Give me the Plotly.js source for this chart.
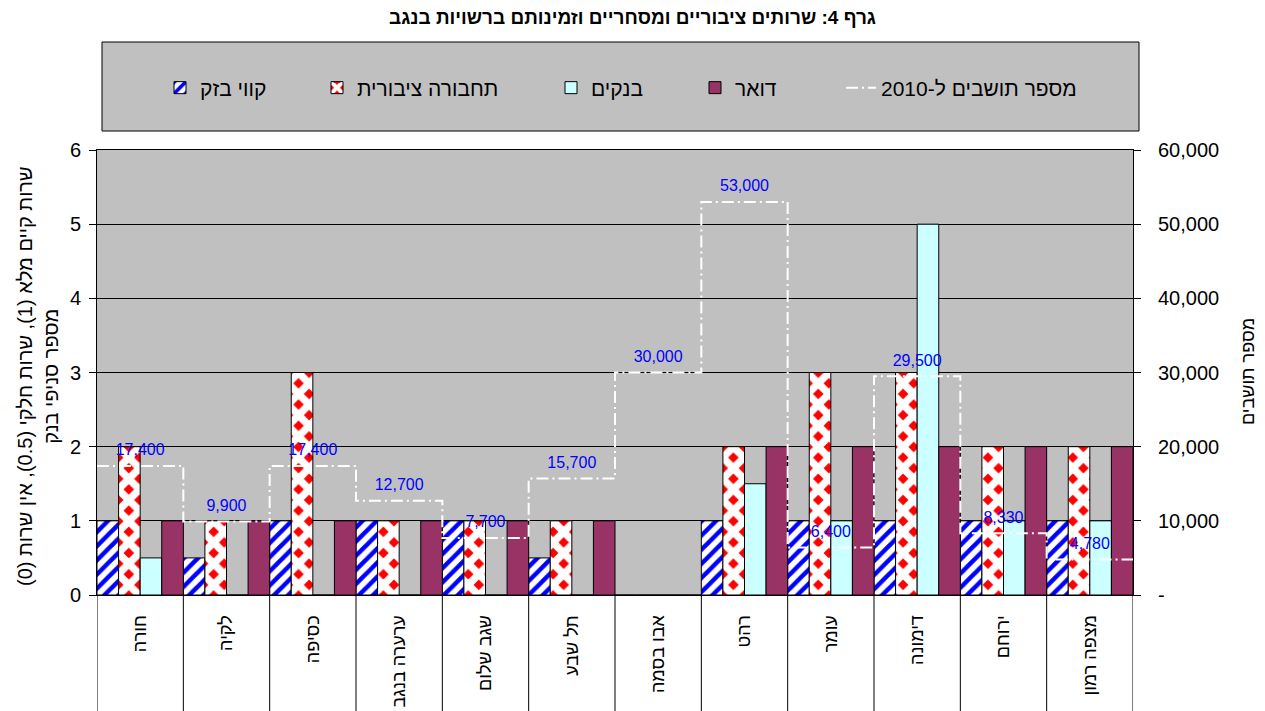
<!DOCTYPE html>
<html>
<head>
<meta charset="utf-8">
<script src="https://cdn.plot.ly/plotly-3.0.1.min.js"></script>
<style>html,body{margin:0;padding:0;background:#fff}#chart{width:1265px;height:711px}</style>
</head>
<body>
<div id="chart"></div>
<script>
const categories = ['חורה','לקיה','כסיפה','ערערה בנגב','שגב שלום','תל שבע','אבו בסמה','רהט','עומר','דימונה','ירוחם','מצפה רמון'];
const bezeq = [1,0.5,1,1,1,0.5,0,1,1,1,1,1];
const transit = [2,1,3,1,1,1,0,2,3,3,2,2];
const banks = [0.5,0,0,0,0,0,0,1.5,1,5,1,1];
const post = [1,1,1,1,1,1,0,2,2,2,2,2];
const population = [17400,9900,17400,12700,7700,15700,30000,53000,6400,29500,8330,4780];
const leftTicks = [0,1,2,3,4,5,6];
const rightTicks = [0,10000,20000,30000,40000,50000,60000];
const rightTickText = ['-','10,000','20,000','30,000','40,000','50,000','60,000'];
const seriesNames = ['קווי בזק','תחבורה ציבורית','בנקים','דואר','מספר תושבים ל-2010'];
const titleText = 'גרף 4: שרותים ציבוריים ומסחריים וזמינותם ברשויות בנגב';
const leftTitle = 'שרות קיים מלא (1), שרות חלקי (0.5), אין שרות (0)\u200F<br>מספר סניפי בנק';
const rightTitle = 'מספר תושבים';

const FONT = 'Liberation Sans, Arial, sans-serif';
const W = 1265, H = 711;
const L = 97, R = 1133, T = 150, B = 595;
const px = v => (v - L) / (R - L);
const py = v => (B - v) / (B - T);

const idx = categories.map((_, i) => i);
const outline = {color: '#000', width: 1};

const traces = [
  {type:'bar', x: idx, y: bezeq, name: seriesNames[0], legend:'legend',
   marker:{color:'#fff', line: outline, pattern:{shape:'/', fgcolor:'#0000FF', bgcolor:'#fff', size:10, solidity:0.45}}},
  {type:'bar', x: idx, y: transit, name: seriesNames[1], legend:'legend2',
   marker:{color:'#FF0000', line: outline, pattern:{shape:'x', fgcolor:'#fff', bgcolor:'#FF0000', size:15, solidity:0.75}}},
  {type:'bar', x: idx, y: banks, name: seriesNames[2], legend:'legend3',
   marker:{color:'#CCFFFF', line: outline}},
  {type:'bar', x: idx, y: post, name: seriesNames[3], legend:'legend4',
   marker:{color:'#993366', line: outline}},
  {type:'scatter', mode:'lines', yaxis:'y2', name: seriesNames[4], legend:'legend5',
   x: idx.flatMap(i => [i - 0.5, i + 0.5]),
   y: population.flatMap(v => [v, v]),
   line:{color:'#fff', width:2, dash:'12px,4px,2px,4px'}},
  {type:'scatter', mode:'markers+text', yaxis:'y2', showlegend:false, x: idx, y: population,
   marker:{size:9, color:'rgba(0,0,0,0)'},
   text: population.map(v => v.toLocaleString('en-US')), textposition:'top center',
   textfont:{family: FONT, size:16, color:'#0000FF'}, cliponaxis:false}
];

const legendY = py(88);
const mkLegend = (rightEdge) => ({
  x: px(rightEdge), xanchor:'right', y: legendY, yanchor:'middle', orientation:'h',
  bgcolor:'rgba(0,0,0,0)', borderwidth:0, font:{family: FONT, size:21, color:'#000'}
});

const shapes = [
  {type:'rect', xref:'paper', yref:'paper', x0: px(102), x1: px(1139), y0: py(131), y1: py(42),
   fillcolor:'#C0C0C0', line:{color:'#000', width:1}, layer:'below'}
];
for (let i = 0; i <= categories.length; i++) {
  shapes.push({type:'line', xref:'x', yref:'paper', x0: i - 0.5, x1: i - 0.5, y0: 0, y1: py(H),
    line:{color:'#000', width:1}});
}

const layout = {
  width: W, height: H,
  margin:{l: L, r: W - R, t: T, b: H - B, pad:0},
  paper_bgcolor:'#fff', plot_bgcolor:'#C0C0C0',
  font:{family: FONT, color:'#000'},
  title:{text: titleText, x:0.5, xanchor:'center', y: 1 - 17/H, yanchor:'middle',
    font:{family: FONT, size:19, color:'#000', weight:'bold'}},
  barmode:'group', bargap:0, bargroupgap:0,
  xaxis:{type:'linear', range:[-0.5, categories.length - 0.5], tickvals: idx, ticktext: categories,
    tickangle:-90, ticks:'', showgrid:false, zeroline:false, showline:true, linecolor:'#000', mirror:true,
    tickfont:{family: FONT, size:18, color:'#000'}, ticklabelstandoff: 12, fixedrange:true},
  yaxis:{range:[0,6], tickvals: leftTicks, ticktext: leftTicks.map(String), showgrid:true, gridcolor:'#000', gridwidth:1,
    zeroline:false, showline:true, linecolor:'#000', ticks:'outside', ticklen:7, tickcolor:'#000',
    tickfont:{family: FONT, size:20, color:'#000'}, ticklabelstandoff: 4},
  yaxis2:{range:[0,60000], overlaying:'y', side:'right', tickvals: rightTicks, ticktext: rightTickText,
    showgrid:false, zeroline:false, showline:true, linecolor:'#000', ticks:'outside', ticklen:7, tickcolor:'#000',
    tickfont:{family: FONT, size:20, color:'#000'}, ticklabelstandoff: 13},
  showlegend:true,
  legend: mkLegend(272),
  legend2: mkLegend(504),
  legend3: mkLegend(648),
  legend4: mkLegend(782),
  legend5: mkLegend(1082),
  shapes: shapes,
  annotations:[
    {xref:'paper', yref:'paper', x: px(38), y: py(376), xanchor:'center', yanchor:'middle', textangle:-90,
     text: leftTitle, showarrow:false, font:{family: FONT, size:20, color:'#000'}},
    {xref:'paper', yref:'paper', x: px(1248), y: py(372), xanchor:'center', yanchor:'middle', textangle:-90,
     text: rightTitle, showarrow:false, font:{family: FONT, size:18, color:'#000'}}
  ]
};

Plotly.newPlot('chart', traces, layout, {staticPlot:true, displayModeBar:false});
</script>
</body>
</html>
